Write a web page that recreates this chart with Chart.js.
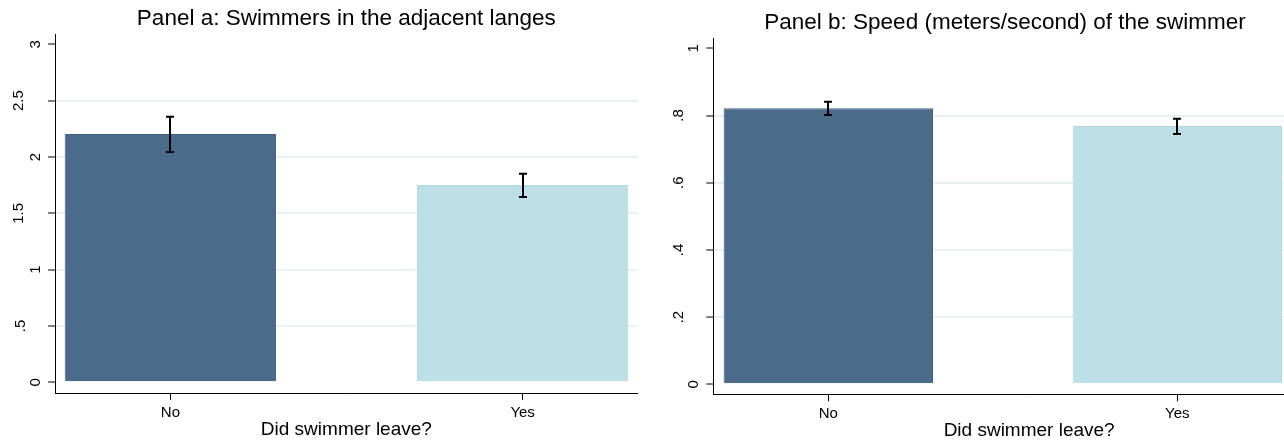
<!DOCTYPE html>
<html><head><meta charset="utf-8">
<script src="https://cdn.jsdelivr.net/npm/chart.js@4.4.1/dist/chart.umd.min.js"></script>
<style>
html,body{margin:0;padding:0;background:#fff;overflow:hidden;width:1284px;height:446px;position:relative;}
canvas{position:absolute;top:0;}
#ca{left:0px;}
#cb{left:665px;}
</style></head><body>
<canvas id="ca" width="642" height="446"></canvas>
<canvas id="cb" width="680" height="446"></canvas>
<script>
// ---- data ----
const categories = ['No', 'Yes'];
const xAxisTitle = 'Did swimmer leave?';

const titleA = 'Panel a: Swimmers in the adjacent langes';
const meansA = [2.204, 1.751];
const ciLowA = [2.044, 1.645];
const ciHighA = [2.357, 1.851];
const yTicksA = [0, 0.5, 1, 1.5, 2, 2.5, 3];
const yTickLabelsA = ['0', '.5', '1', '1.5', '2', '2.5', '3'];

const titleB = 'Panel b: Speed (meters/second) of the swimmer';
const meansB = [0.8214, 0.7688];
const ciLowB = [0.8015, 0.745];
const ciHighB = [0.841, 0.7905];
const yTicksB = [0, 0.2, 0.4, 0.6, 0.8, 1];
const yTickLabelsB = ['0', '.2', '.4', '.6', '.8', '1'];

const barColors = ['#4a6b8a', '#bddfe8'];
const barBorders = ['#3f5f80', '#b3d8e2'];
// ---------------

const FONT = "'Liberation Sans', Arial, Helvetica, sans-serif";

function errPlugin(lo, hi) {
  return {
    id: 'errBars',
    afterDatasetsDraw(chart) {
      const ctx = chart.ctx, xs = chart.scales.x, ys = chart.scales.y;
      ctx.save();
      ctx.strokeStyle = '#000';
      ctx.lineWidth = 2;
      lo.forEach((l, i) => {
        const px = Math.round(xs.getPixelForValue(i));
        const yl = ys.getPixelForValue(l), yh = ys.getPixelForValue(hi[i]);
        ctx.beginPath();
        ctx.moveTo(px, yl); ctx.lineTo(px, yh);
        ctx.moveTo(px - 4, yl); ctx.lineTo(px + 4, yl);
        ctx.moveTo(px - 4, yh); ctx.lineTo(px + 4, yh);
        ctx.stroke();
      });
      ctx.restore();
    }
  };
}

function yLabPlugin(base) {
  return {
    id: 'yLabPos',
    beforeDraw(chart) {
      const s = chart.scales.y;
      const items = s.getLabelItems();
      items.forEach(it => {
        const n = String(it.label).length;
        const shift = n === 1 ? 0 : (n === 2 ? 15 : 17);
        it.options.translation[0] = base - shift;
      });
    }
  };
}

function makeChart(id, p) {
  return new Chart(document.getElementById(id), {
    type: 'bar',
    data: {
      datasets: [{
        data: categories.map((c, i) => ({ x: i, y: p.means[i] })),
        backgroundColor: barColors,
        borderColor: barBorders,
        borderWidth: 1,
        categoryPercentage: 1,
        barPercentage: 0.6
      }]
    },
    options: {
      responsive: false,
      animation: false,
      layout: { padding: { left: 0, top: 0, bottom: 0, right: p.padR } },
      plugins: {
        legend: { display: false },
        tooltip: { enabled: false },
        title: {
          display: true, fullSize: p.fullSize, text: p.title, color: '#000',
          font: { family: FONT, size: 22.5, weight: 'normal', lineHeight: 1.2 },
          padding: { top: p.tTop, bottom: p.tBot }
        }
      },
      scales: {
        x: {
          type: 'linear', min: p.xMin, max: p.xMax, offset: false,
          afterBuildTicks: s => { s.ticks = categories.map((c, i) => ({ value: i })); },
          afterFit: s => { s.height = p.xH; },
          grid: { display: true, offset: false, drawOnChartArea: false, drawTicks: true, tickLength: 7, tickColor: '#000', tickWidth: 1 },
          border: { display: true, color: '#000', width: 1 },
          ticks: { color: '#000', font: { family: FONT, size: 15 }, padding: 4, maxRotation: 0, minRotation: 0, autoSkip: false,
                   callback: (v, i) => categories[i] },
          title: { display: true, text: xAxisTitle, color: '#000', font: { family: FONT, size: 19, lineHeight: 1.2 }, padding: { top: 0, bottom: p.xtB } }
        },
        y: {
          type: 'linear', min: p.yMin, max: p.yMax,
          afterBuildTicks: s => { s.ticks = p.yTicks.map(v => ({ value: v })); },
          afterFit: s => { s.width = p.yW; },
          grid: {
            color: c => (c.index === 0 || c.index === p.yTicks.length - 1) ? 'rgba(0,0,0,0)' : '#eaf1f3',
            lineWidth: 2, tickColor: '#000', tickWidth: 1, tickLength: 7, drawTicks: true
          },
          border: { display: true, color: '#000', width: 1 },
          ticks: { color: '#000', font: { family: FONT, size: 15 }, minRotation: 90, maxRotation: 90, crossAlign: 'center',
                   padding: 4, autoSkip: false, callback: (v, i) => p.yLabels[i] }
        }
      }
    },
    plugins: [errPlugin(p.lo, p.hi), yLabPlugin(p.labBase)]
  });
}

makeChart('ca', {
  title: titleA, means: meansA, lo: ciLowA, hi: ciHighA, yTicks: yTicksA, yLabels: yTickLabelsA,
  xMin: -0.3276, xMax: 1.3267, yMin: -0.095, yMax: 3.0888, fullSize: false,
  tTop: 5.3, tBot: 2, xH: 53, yW: 55, padR: 4.3, labBase: 36, xtB: 5
});
makeChart('cb', {
  title: titleB, means: meansB, lo: ciLowB, hi: ciHighB, yTicks: yTicksB, yLabels: yTickLabelsB,
  xMin: -0.3295, xMax: 1.4805, yMin: -0.0298, yMax: 1.0298, fullSize: true,
  tTop: 9.3, tBot: 2, xH: 51.7, yW: 48.3, padR: 0, labBase: 29.2, xtB: 3.5
});
</script>
</body></html>
